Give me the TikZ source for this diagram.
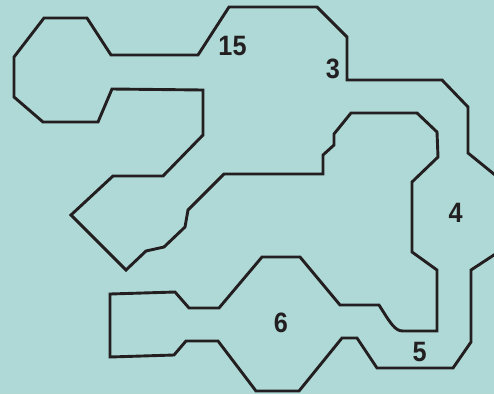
\documentclass[tikz,border=0pt]{standalone}
\usepackage{fontspec}
\setmainfont{Liberation Sans}
\definecolor{bgteal}{HTML}{AED9D6}
\definecolor{inkdark}{HTML}{231F20}
\tikzset{
  mazeline/.style={draw=inkdark, line width=2.9pt, line join=miter},
  numlabel/.style={text=inkdark, font=\fontsize{28}{28}\selectfont\bfseries, inner sep=0pt, xscale=0.9}
}
\begin{document}
\begin{tikzpicture}[x=1pt,y=-1pt]
\useasboundingbox (0,0) rectangle (494,394);
\fill[bgteal] (0,0) rectangle (494,394);
\clip (0,0) rectangle (494,394);
\draw[mazeline] (500,251) -- (471,270) -- (471,342) -- (453,368) -- (377,368) -- (357,338) -- (342,338) -- (299,391) -- (256,391) -- (218,341) -- (186,341) -- (174,355) -- (110,357) -- (110,294) -- (175,292) -- (189,308) -- (219,308) -- (262,257) -- (300,257) -- (340,305) -- (379,305) .. controls (391,324) and (395,331) .. (403,331) -- (437,331) -- (437,270) -- (412,252) -- (412,182) -- (438,157) -- (437,132) -- (417,113) -- (351,113) -- (334,134) -- (334,145) -- (323,155) -- (323,174) -- (224,174) -- (188,210) -- (185,227) -- (164,247) -- (146,251) -- (126,270) -- (71,215) -- (113,176) -- (163,176) -- (203,135) -- (203,90) -- (112,89) -- (98,122) -- (43,122) -- (14,97) -- (14,57) -- (44,18) -- (87,18) -- (111,55) -- (198,55) -- (229,7) -- (317,7) -- (347,37) -- (347,80) -- (442,80) -- (468,107) -- (468,153) -- (500,179);
\node[numlabel] (l15) at (232.5,46) {15};
\node[numlabel] (l3) at (333,69) {3};
\node[numlabel] (l4) at (455.5,212.5) {4};
\node[numlabel] (l5) at (419.5,351.5) {5};
\node[numlabel] (l6) at (281,323) {6};
\end{tikzpicture}
\end{document}
